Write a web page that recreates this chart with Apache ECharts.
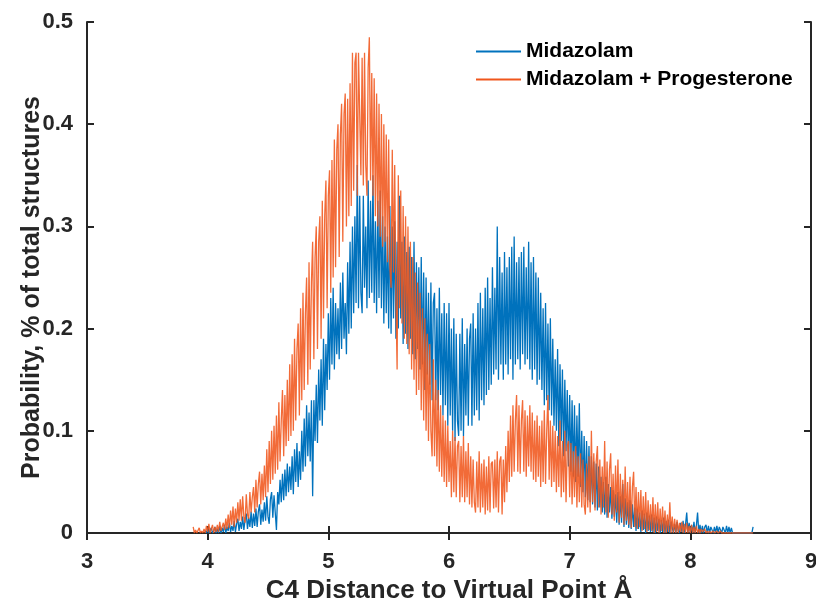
<!DOCTYPE html>
<html>
<head>
<meta charset="utf-8">
<script src="https://cdn.jsdelivr.net/npm/echarts@6/dist/echarts.min.js"></script>
<style>html,body{margin:0;padding:0;background:#fff}#c{width:816px;height:602px}</style>
</head>
<body>
<div id="c"></div>
<script>
// Histogram bins: bin width 0.01 Å, first bin centre per series
const binWidth = 0.01;
const blueStart = 3.98;
const orangeStart = 3.88;
const seriesNames = ['Midazolam', 'Midazolam + Progesterone'];
const xTicks = [3, 4, 5, 6, 7, 8, 9];
const yTicks = [0, 0.1, 0.2, 0.3, 0.4, 0.5];

const midazolam = [
0.002,0,0.004,0,0.001,0.005,0,0.002,0.006,0,
0.004,0,0.007,0,0.005,0.001,0.008,0,0.006,0.002,
0.01,0.001,0.007,0.002,0.012,0.001,0.009,0.014,0.002,0.011,
0.004,0.016,0.003,0.013,0.019,0.004,0.015,0.006,0.021,0.005,
0.019,0.007,0.024,0.006,0.021,0.028,0.008,0.023,0.011,0.03,
0.012,0.036,0.016,0.009,0.033,0.04,0.015,0.037,0.02,0.003,
0.04,0.028,0.052,0.03,0.058,0.032,0.062,0.036,0.068,0.04,
0.065,0.042,0.075,0.038,0.082,0.05,0.088,0.045,0.08,0.052,
0.1,0.06,0.112,0.065,0.125,0.075,0.118,0.07,0.13,0.036,
0.13,0.09,0.145,0.088,0.16,0.11,0.17,0.105,0.19,0.12,
0.185,0.14,0.215,0.15,0.23,0.165,0.24,0.16,0.225,0.175,
0.22,0.17,0.245,0.18,0.255,0.19,0.225,0.175,0.265,0.195,
0.285,0.2,0.3,0.215,0.31,0.225,0.36,0.22,0.33,0.235,
0.215,0.33,0.24,0.3,0.22,0.345,0.23,0.325,0.235,0.35,
0.225,0.305,0.215,0.325,0.23,0.335,0.22,0.31,0.205,0.3,
0.215,0.29,0.2,0.32,0.195,0.3,0.21,0.305,0.19,0.285,
0.2,0.33,0.21,0.285,0.185,0.29,0.195,0.275,0.18,0.28,
0.19,0.27,0.175,0.285,0.17,0.265,0.18,0.26,0.16,0.27,
0.165,0.255,0.14,0.25,0.155,0.235,0.145,0.245,0.13,0.225,
0.235,0.13,0.22,0.12,0.24,0.135,0.215,0.115,0.225,0.125,
0.215,0.105,0.225,0.115,0.2,0.1,0.21,0.09,0.195,0.11,
0.095,0.195,0.1,0.21,0.095,0.185,0.115,0.2,0.105,0.19,
0.205,0.105,0.215,0.115,0.2,0.12,0.225,0.11,0.235,0.13,
0.22,0.125,0.24,0.135,0.25,0.14,0.23,0.145,0.26,0.155,
0.24,0.16,0.3,0.15,0.27,0.165,0.255,0.15,0.275,0.165,
0.26,0.155,0.27,0.17,0.28,0.15,0.29,0.165,0.265,0.17,
0.27,0.16,0.275,0.175,0.28,0.165,0.26,0.17,0.285,0.16,
0.265,0.15,0.27,0.16,0.255,0.145,0.25,0.15,0.235,0.14,
0.22,0.125,0.225,0.13,0.205,0.12,0.21,0.115,0.19,0.105,
0.17,0.1,0.18,0.085,0.165,0.09,0.16,0.075,0.15,0.08,
0.14,0.065,0.135,0.06,0.13,0.055,0.125,0.05,0.115,0.055,
0.127,0.045,0.1,0.04,0.095,0.035,0.09,0.032,0.085,0.03,
0.075,0.028,0.07,0.025,0.068,0.022,0.065,0.025,0.055,0.02,
0.05,0.018,0.055,0.015,0.048,0.02,0.045,0.014,0.042,0.016,
0.038,0.01,0.04,0.008,0.036,0.01,0.048,0.006,0.034,0.008,
0.03,0.005,0.032,0.004,0.028,0.006,0.025,0.002,0.024,0.004,
0.02,0.001,0.022,0.003,0.019,0,0.02,0.002,0.017,0.001,
0.018,0.001,0.015,0,0.016,0.002,0.014,0,0.013,0.001,
0.015,0,0.012,0.001,0.013,0,0.011,0.012,0,0.009,
0,0.011,0.002,0,0.01,0.001,0.012,0,0.008,0.02,
0.001,0.01,0,0.008,0,0.011,0,0.007,0.02,0,
0.008,0,0.007,0,0.006,0.008,0,0.007,0,0.006,
0.007,0,0.006,0,0.007,0,0.006,0.007,0,0.006,
0.006,0,0.007,0,0.006,0,0.005,0,0,0,
0,0,0,0,0,0,0,0,0,0,
0,0,0,0,0.006
];

const midazolamProgesterone = [
0.006,0,0.003,0,0,0.005,0,0.002,0,0.004,
0,0.007,0.001,0.009,0,0.004,0.008,0,0.006,0.001,
0.008,0.001,0.011,0.002,0.001,0.01,0.003,0.014,0.004,0.018,
0.005,0.022,0.008,0.026,0.006,0.024,0.01,0.03,0.012,0.033,
0.012,0.036,0.016,0.01,0.038,0.018,0.014,0.04,0.02,0.035,
0.045,0.02,0.052,0.025,0.048,0.06,0.028,0.058,0.032,0.066,
0.035,0.082,0.04,0.09,0.048,0.1,0.052,0.105,0.058,0.115,
0.062,0.128,0.07,0.11,0.14,0.075,0.135,0.085,0.15,0.09,
0.165,0.095,0.175,0.1,0.19,0.11,0.18,0.205,0.115,0.22,
0.13,0.235,0.14,0.215,0.25,0.145,0.265,0.16,0.245,0.285,
0.17,0.27,0.3,0.18,0.285,0.31,0.19,0.325,0.21,0.31,
0.345,0.22,0.33,0.355,0.235,0.365,0.25,0.385,0.26,0.375,
0.4,0.27,0.39,0.42,0.285,0.41,0.43,0.3,0.425,0.31,
0.44,0.32,0.47,0.335,0.46,0.47,0.33,0.47,0.47,0.35,
0.465,0.34,0.47,0.36,0.33,0.455,0.485,0.345,0.45,0.33,
0.445,0.31,0.43,0.3,0.42,0.29,0.41,0.28,0.4,0.285,
0.39,0.265,0.385,0.26,0.24,0.375,0.255,0.36,0.23,0.16,
0.35,0.22,0.335,0.205,0.32,0.19,0.31,0.185,0.3,0.175,
0.285,0.16,0.27,0.15,0.255,0.135,0.245,0.14,0.235,0.12,
0.22,0.11,0.21,0.1,0.195,0.09,0.185,0.1,0.075,0.17,
0.075,0.15,0.065,0.14,0.06,0.125,0.055,0.115,0.05,0.11,
0.045,0.105,0.05,0.09,0.035,0.1,0.04,0.094,0.035,0.085,
0.09,0.03,0.085,0.035,0.095,0.03,0.08,0.035,0.088,0.028,
0.075,0.025,0.072,0.03,0.02,0.07,0.025,0.08,0.02,0.068,
0.025,0.072,0.018,0.065,0.022,0.075,0.02,0.068,0.07,0.024,
0.072,0.025,0.08,0.02,0.07,0.075,0.018,0.072,0.03,0.085,
0.04,0.1,0.05,0.115,0.055,0.125,0.06,0.11,0.135,0.06,
0.125,0.058,0.11,0.13,0.06,0.12,0.055,0.115,0.065,0.125,
0.06,0.118,0.052,0.11,0.05,0.115,0.055,0.105,0.045,0.11,
0.05,0.12,0.048,0.1,0.135,0.052,0.11,0.045,0.105,0.05,
0.1,0.04,0.095,0.045,0.11,0.035,0.09,0.04,0.1,0.03,
0.085,0.09,0.035,0.088,0.028,0.08,0.035,0.085,0.025,0.075,
0.03,0.078,0.025,0.072,0.028,0.018,0.068,0.025,0.075,0.02,
0.1,0.03,0.078,0.022,0.07,0.085,0.025,0.072,0.018,0.065,
0.025,0.09,0.02,0.07,0.015,0.062,0.078,0.018,0.058,0.012,
0.066,0.02,0.072,0.01,0.058,0.015,0.052,0.008,0.065,0.012,
0.05,0.008,0.055,0.005,0.045,0.06,0.006,0.045,0.004,0.04,
0.006,0.042,0.002,0.036,0.004,0.04,0.001,0.032,0.003,0.028,
0.002,0.035,0,0.028,0.001,0.03,0,0.024,0.002,0.026,
0,0.022,0,0.018,0.001,0.03,0,0.016,0,0.014,
0,0.013,0,0.01,0.001,0.011,0,0.009,0,0.01,
0,0.007,0,0.008,0,0.006,0,0.007,0,0.004,
0,0.004,0.001,0,0.004,0,0.002,0,0.002,0,
0,0.002,0,0,0.002,0,0,0.002,0,0,
0,0,0,0,0,0,0,0,0,0,
0,0,0,0,0,0,0,0,0,0,
0,0,0,0,0
];

function pairs(start, vals) {
  return vals.map((v, i) => [Math.round((start + i * binWidth) * 100) / 100, v]);
}

const FONT = '"Liberation Sans", Arial, Helvetica, sans-serif';
const chart = echarts.init(document.getElementById('c'), null, {renderer: 'canvas'});
const axisLine = {show: true, lineStyle: {color: '#262626', width: 2}};
const tick = {show: true, inside: true, length: 7, lineStyle: {color: '#262626', width: 2}};
chart.setOption({
  animation: false,
  backgroundColor: '#fff',
  grid: {left: 87, right: 5, top: 22, bottom: 69, containLabel: false, outerBoundsMode: 'none'},
  legend: {
    data: seriesNames,
    orient: 'vertical',
    left: 471, top: 36,
    itemWidth: 45, itemHeight: 2, itemGap: 7,
    icon: 'rect',
    textStyle: {fontFamily: FONT, fontWeight: 'bold', fontSize: 21, color: '#000'}
  },
  xAxis: [{
    type: 'value', min: xTicks[0], max: xTicks[xTicks.length - 1], interval: 1,
    axisLine, axisTick: tick, splitLine: {show: false},
    axisLabel: {fontFamily: FONT, fontWeight: 'bold', fontSize: 22, color: '#262626', margin: 18},
    name: 'C4 Distance to Virtual Point Å', nameLocation: 'middle', nameGap: 45, nameMoveOverlap: false,
    nameTextStyle: {fontFamily: FONT, fontWeight: 'bold', fontSize: 26, color: '#262626'}
  }, {
    type: 'value', position: 'top', min: xTicks[0], max: xTicks[xTicks.length - 1], interval: 1,
    axisLine, axisTick: tick, axisLabel: {show: false}, splitLine: {show: false}
  }],
  yAxis: [{
    type: 'value', min: yTicks[0], max: yTicks[yTicks.length - 1], interval: 0.1,
    axisLine, axisTick: tick, splitLine: {show: false},
    axisLabel: {fontFamily: FONT, fontWeight: 'bold', fontSize: 22, color: '#262626', margin: 14},
    name: 'Probability, % of total structures', nameLocation: 'middle', nameGap: 42, nameMoveOverlap: false,
    nameTextStyle: {fontFamily: FONT, fontWeight: 'bold', fontSize: 25, color: '#262626', padding: [0, 20, 0, 0]}
  }, {
    type: 'value', position: 'right', min: yTicks[0], max: yTicks[yTicks.length - 1], interval: 0.1,
    axisLine, axisTick: tick, axisLabel: {show: false}, splitLine: {show: false}
  }],
  series: [{
    name: seriesNames[0], type: 'line', data: pairs(blueStart, midazolam),
    showSymbol: false, symbol: 'none', color: '#0072BD',
    lineStyle: {width: 1.3, color: '#0072BD'}, z: 2
  }, {
    name: seriesNames[1], type: 'line', data: pairs(orangeStart, midazolamProgesterone),
    showSymbol: false, symbol: 'none', color: '#F0561C',
    lineStyle: {width: 1.3, color: '#F0561C', opacity: 0.88}, z: 3
  }]
});
</script>
</body>
</html>
